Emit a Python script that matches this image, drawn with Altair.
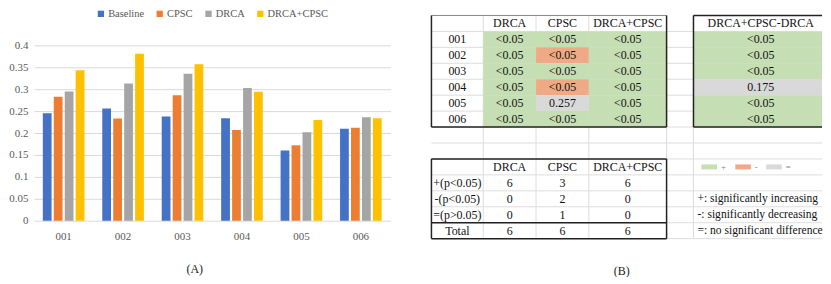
import altair as alt
import pandas as pd

# ---------------- data: panel (A) ----------------
groups = ["001", "002", "003", "004", "005", "006"]
series = ["Baseline", "CPSC", "DRCA", "DRCA+CPSC"]
baseline = [0.245, 0.256, 0.238, 0.234, 0.160, 0.210]
cpsc = [0.283, 0.233, 0.286, 0.207, 0.172, 0.212]
drca = [0.295, 0.313, 0.335, 0.303, 0.202, 0.236]
drca_cpsc = [0.343, 0.381, 0.357, 0.294, 0.230, 0.234]
series_colors = ["#4472C4", "#ED7D31", "#A5A5A5", "#FFC000"]
y_ticks = [0, 0.05, 0.1, 0.15, 0.2, 0.25, 0.3, 0.35, 0.4]

# ---------------- data: panel (B) ----------------
t1_cols = ["DRCA", "CPSC", "DRCA+CPSC"]
t1_rows = ["001", "002", "003", "004", "005", "006"]
t1_vals = [
    ["<0.05", "<0.05", "<0.05"],
    ["<0.05", "<0.05", "<0.05"],
    ["<0.05", "<0.05", "<0.05"],
    ["<0.05", "<0.05", "<0.05"],
    ["<0.05", "0.257", "<0.05"],
    ["<0.05", "<0.05", "<0.05"],
]
t1_sig = [
    ["+", "+", "+"],
    ["+", "-", "+"],
    ["+", "+", "+"],
    ["+", "-", "+"],
    ["+", "=", "+"],
    ["+", "+", "+"],
]
t3_col = "DRCA+CPSC-DRCA"
t3_vals = ["<0.05", "<0.05", "<0.05", "0.175", "<0.05", "<0.05"]
t3_sig = ["+", "+", "+", "=", "+", "+"]
t2_rows = ["+(p<0.05)", "-(p<0.05)", "=(p>0.05)", "Total"]
t2_vals = [["6", "3", "6"], ["0", "2", "0"], ["0", "1", "0"], ["6", "6", "6"]]
sig_labels = ["+", "-", "="]
sig_colors = ["#C5DEB3", "#EFAA85", "#D9D9D9"]
notes = ["+: significantly increasing", "-:  significantly decreasing", "=: no significant difference"]

FONT = "Liberation Serif"

# ---------------- panel (A) ----------------
# the view reaches above the 0.4 gridline to leave room for the legend inside it
A_HEIGHT = 212
A_PLOT_H = 176
Y_TOP = 0.4 * A_HEIGHT / A_PLOT_H

vals = [baseline, cpsc, drca, drca_cpsc]
bar_df = pd.DataFrame(
    [{"group": g, "series": s, "value": v}
     for s, vs in zip(series, vals) for g, v in zip(groups, vs)]
)

bars = alt.Chart(bar_df).mark_bar().encode(
    x=alt.X("group:N", sort=groups,
            scale=alt.Scale(paddingInner=0.3, paddingOuter=0.15),
            axis=alt.Axis(title=None, labelAngle=0, domain=False, ticks=False,
                          labelFont=FONT, labelFontSize=11, labelColor="#595959",
                          labelPadding=10)),
    xOffset=alt.XOffset("series:N", sort=series, scale=alt.Scale(paddingInner=0.2)),
    y=alt.Y("value:Q", scale=alt.Scale(domain=[0, Y_TOP], nice=False),
            axis=alt.Axis(values=y_ticks, format="~g", title=None, domain=False,
                          ticks=False, gridColor="#D9D9D9", gridWidth=1,
                          labelFont=FONT, labelFontSize=11, labelColor="#595959",
                          labelPadding=6)),
    color=alt.Color("series:N", sort=series,
                    scale=alt.Scale(domain=series, range=series_colors),
                    legend=alt.Legend(title=None, orient="none", legendX=62, legendY=-1,
                                      direction="horizontal", symbolType="square",
                                      symbolSize=40, symbolStrokeWidth=0,
                                      labelFont=FONT, labelFontSize=10.5,
                                      labelColor="#595959", columnPadding=10,
                                      labelOffset=2)),
).properties(
    width=358, height=A_HEIGHT,
    title=alt.TitleParams("(A)", orient="bottom", anchor="middle", frame="bounds",
                          font=FONT, fontSize=12, fontWeight="normal",
                          color="#222222", offset=22, dx=-5),
)

# ---------------- panel (B) layout ----------------
COL_EDGES = [431, 483, 536, 589, 667]
GAP_RIGHT = 694
RIGHT_EDGE = 823
TOP = 14
ROW_H = 16
X_DOM = [431, 823]
Y_DOM = [8, 276]


def ry(r):
    return TOP + r * ROW_H


def rc(r):
    return TOP + (r + 0.5) * ROW_H


fills, texts, dark, light = [], [], [], []

for j, c in enumerate(t1_cols):
    texts.append({"x": (COL_EDGES[j + 1] + COL_EDGES[j + 2]) / 2, "y": rc(0), "text": c})
texts.append({"x": (GAP_RIGHT + RIGHT_EDGE) / 2 + 3, "y": rc(0), "text": t3_col})
for i, rname in enumerate(t1_rows):
    r = i + 1
    texts.append({"x": (COL_EDGES[0] + COL_EDGES[1]) / 2, "y": rc(r), "text": rname})
    for j in range(3):
        x0, x1 = COL_EDGES[j + 1], COL_EDGES[j + 2]
        fills.append({"x0": x0, "x1": x1, "y0": ry(r), "y1": ry(r + 1), "sig": t1_sig[i][j]})
        texts.append({"x": (x0 + x1) / 2, "y": rc(r), "text": t1_vals[i][j]})
    fills.append({"x0": GAP_RIGHT, "x1": RIGHT_EDGE, "y0": ry(r), "y1": ry(r + 1), "sig": t3_sig[i]})
    texts.append({"x": (GAP_RIGHT + RIGHT_EDGE) / 2 + 3, "y": rc(r), "text": t3_vals[i]})

T2 = 9
for j, c in enumerate(t1_cols):
    texts.append({"x": (COL_EDGES[j + 1] + COL_EDGES[j + 2]) / 2, "y": rc(T2), "text": c})
for i, rname in enumerate(t2_rows):
    r = T2 + 1 + i
    texts.append({"x": (COL_EDGES[0] + COL_EDGES[1]) / 2, "y": rc(r), "text": rname})
    for j in range(3):
        texts.append({"x": (COL_EDGES[j + 1] + COL_EDGES[j + 2]) / 2, "y": rc(r),
                      "text": t2_vals[i][j]})

for k in range(1, 15):
    light.append({"x": COL_EDGES[0], "x2": RIGHT_EDGE, "y": ry(k), "y2": ry(k)})
for xe in COL_EDGES[1:] + [GAP_RIGHT]:
    light.append({"x": xe, "x2": xe, "y": ry(0), "y2": ry(14)})

L, R = COL_EDGES[0], COL_EDGES[-1]
dark += [
    {"x": L, "x2": L, "y": ry(0), "y2": ry(7)},
    {"x": R, "x2": R, "y": ry(0), "y2": ry(7)},
    {"x": L, "x2": R, "y": ry(7), "y2": ry(7)},
    {"x": GAP_RIGHT, "x2": GAP_RIGHT, "y": ry(0), "y2": ry(7)},
    {"x": GAP_RIGHT, "x2": RIGHT_EDGE, "y": ry(0), "y2": ry(0)},
    {"x": GAP_RIGHT, "x2": RIGHT_EDGE, "y": ry(7), "y2": ry(7)},
    {"x": L, "x2": R, "y": ry(T2), "y2": ry(T2)},
    {"x": L, "x2": R, "y": ry(T2 + 5), "y2": ry(T2 + 5)},
    {"x": L, "x2": L, "y": ry(T2), "y2": ry(T2 + 5)},
    {"x": R, "x2": R, "y": ry(T2), "y2": ry(T2 + 5)},
    {"x": L, "x2": R, "y": ry(T2 + 4), "y2": ry(T2 + 4)},
]
top_border = [{"x": L, "x2": R, "y": ry(0), "y2": ry(0)}]

KEY_X = [702, 736, 767]
KEY_W = 15.6
swatches = [{"x0": kx, "x1": kx + KEY_W, "y0": rc(T2) - 2.5, "y1": rc(T2) + 2.5, "sig": s}
            for kx, s in zip(KEY_X, sig_labels)]
key_text = [{"x": kx + KEY_W + 4, "y": rc(T2), "text": s} for kx, s in zip(KEY_X, sig_labels)]
note_text = [{"x": 698, "y": rc(T2 + 2 + i), "text": t} for i, t in enumerate(notes)]
b_label = [{"x": 622, "y": 270, "text": "(B)"}]

xs = alt.Scale(domain=X_DOM, nice=False, zero=False)
ys = alt.Scale(domain=Y_DOM, nice=False, zero=False, reverse=True)
cs = alt.Scale(domain=sig_labels, range=sig_colors)


def rule_layer(rows, color, width):
    return alt.Chart(pd.DataFrame(rows)).mark_rule(color=color, strokeWidth=width).encode(
        x=alt.X("x:Q", scale=xs, axis=None), x2="x2:Q",
        y=alt.Y("y:Q", scale=ys, axis=None), y2="y2:Q")


def rect_layer(rows):
    return alt.Chart(pd.DataFrame(rows)).mark_rect().encode(
        x=alt.X("x0:Q", scale=xs, axis=None), x2="x1:Q",
        y=alt.Y("y0:Q", scale=ys, axis=None), y2="y1:Q",
        color=alt.Color("sig:N", scale=cs, legend=None))


def text_layer(rows, size, color, align="center"):
    return alt.Chart(pd.DataFrame(rows)).mark_text(
        font=FONT, fontSize=size, color=color, align=align, baseline="middle").encode(
        x=alt.X("x:Q", scale=xs, axis=None),
        y=alt.Y("y:Q", scale=ys, axis=None),
        text="text:N")


tables = alt.layer(
    rule_layer(light, "#DDDDDD", 1),
    rect_layer(fills),
    rect_layer(swatches),
    rule_layer(top_border, "#888888", 1),
    rule_layer(dark, "#222222", 1.5),
    text_layer(texts, 12, "#111111"),
    text_layer(key_text, 9, "#888888", "left"),
    text_layer(note_text, 11.6, "#111111", "left"),
    text_layer(b_label, 12, "#222222"),
).properties(width=392, height=268)

chart = alt.hconcat(bars, tables, spacing=40).resolve_scale(
    color="independent", x="independent", y="independent"
).properties(
    padding={"left": 0, "top": 0, "right": 0, "bottom": 0}
).configure_view(stroke=None)

chart.save("out.html", embed_options={"renderer": "svg", "actions": False})
